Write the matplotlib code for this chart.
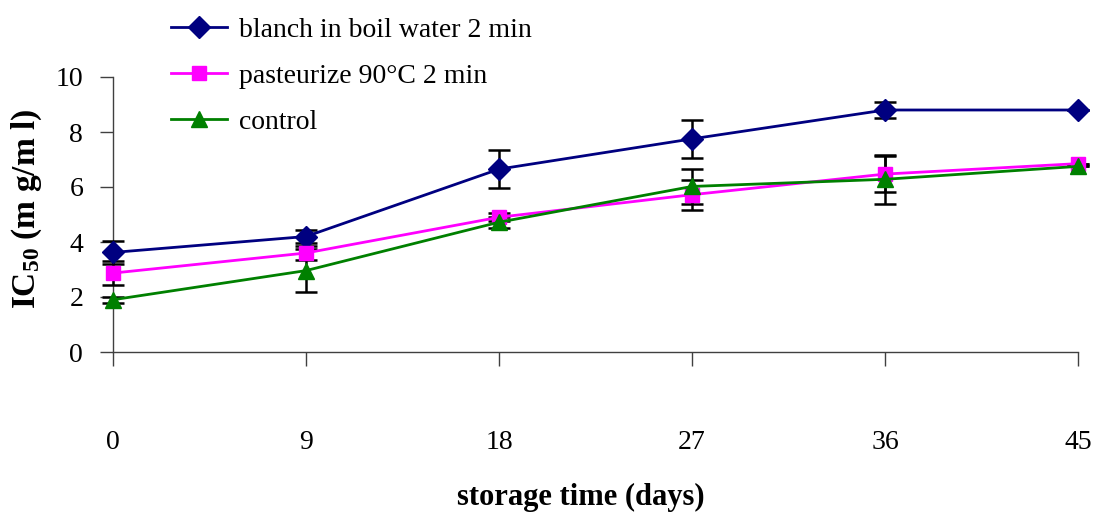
import matplotlib
matplotlib.use("Agg")
import matplotlib.pyplot as plt

# ---------------------------------------------------------------------------
# Data
# ---------------------------------------------------------------------------
days = [0, 9, 18, 27, 36, 45]

blanch = [3.62, 4.2, 6.65, 7.75, 8.8, 8.8]
blanch_err = [0.42, 0.25, 0.7, 0.7, 0.28, 0.0]

pasteurize = [2.87, 3.6, 4.9, 5.72, 6.47, 6.85]
pasteurize_err = [0.45, 0.27, 0.15, 0.55, 0.65, 0.0]

control = [1.9, 2.96, 4.72, 6.02, 6.28, 6.75]
control_err = [0.1, 0.77, 0.2, 0.65, 0.9, 0.0]

labels = ["blanch in boil water 2 min", "pasteurize 90°C 2 min", "control"]

# ---------------------------------------------------------------------------
plt.rcParams["font.family"] = ["Liberation Serif", "DejaVu Serif"]
plt.rcParams["mathtext.fontset"] = "custom"
plt.rcParams["mathtext.rm"] = "Liberation Serif:bold"
plt.rcParams["mathtext.bf"] = "Liberation Serif:bold"
plt.rcParams["mathtext.default"] = "rm"

fig = plt.figure(figsize=(10.95, 5.13), dpi=100)
ax = fig.add_axes([113 / 1095, 1 - 352 / 513, 965 / 1095, 275 / 513])

series = [
    (blanch, blanch_err, "#000080", "D", 11),
    (pasteurize, pasteurize_err, "#FF00FF", "s", 10),
    (control, control_err, "#008000", "^", 11),
]

handles = []
for (vals, err, col, mk, ms), lab in zip(series, labels):
    ax.errorbar(days, vals, yerr=err, fmt="none", ecolor="black",
                elinewidth=1.8, capsize=8, capthick=1.8, zorder=2,
                clip_on=False)
    h, = ax.plot(days, vals, color=col, marker=mk, markersize=ms,
                 linewidth=2.0, label=lab, zorder=3, clip_on=False)
    handles.append(h)

ax.set_xlim(0, 45)
ax.set_ylim(0, 10)
ax.set_xticks(days)
ax.set_yticks(range(0, 11, 2))

for side in ["top", "right"]:
    ax.spines[side].set_visible(False)
for side in ["left", "bottom"]:
    ax.spines[side].set_color("#404040")
    ax.spines[side].set_linewidth(1.0)
ax.spines["left"].set_zorder(1)

ax.tick_params(axis="y", direction="out", length=9.5, width=1.0,
               color="#404040", labelsize=20, pad=12)
ax.tick_params(axis="x", direction="out", length=10, width=1.0,
               color="#404040", labelsize=20, pad=46)

ax.set_ylabel("IC$_{50}$ (m g/m l)", fontsize=24, fontweight="bold")
ax.yaxis.set_label_coords(-0.089, 0.52)
ax.yaxis.label.set_va("center")
ax.set_xlabel("storage time (days)", fontsize=22, fontweight="bold")
ax.xaxis.set_label_coords(0.485, -0.53)
ax.xaxis.label.set_va("center")

fig.legend(handles=handles, loc="upper left",
           bbox_to_anchor=(160 / 1095, 1 - 6 / 513),
           frameon=False, fontsize=20, handlelength=2.0,
           handletextpad=0.45, labelspacing=0.75, borderaxespad=0)

fig.savefig("out.png", dpi=100)
